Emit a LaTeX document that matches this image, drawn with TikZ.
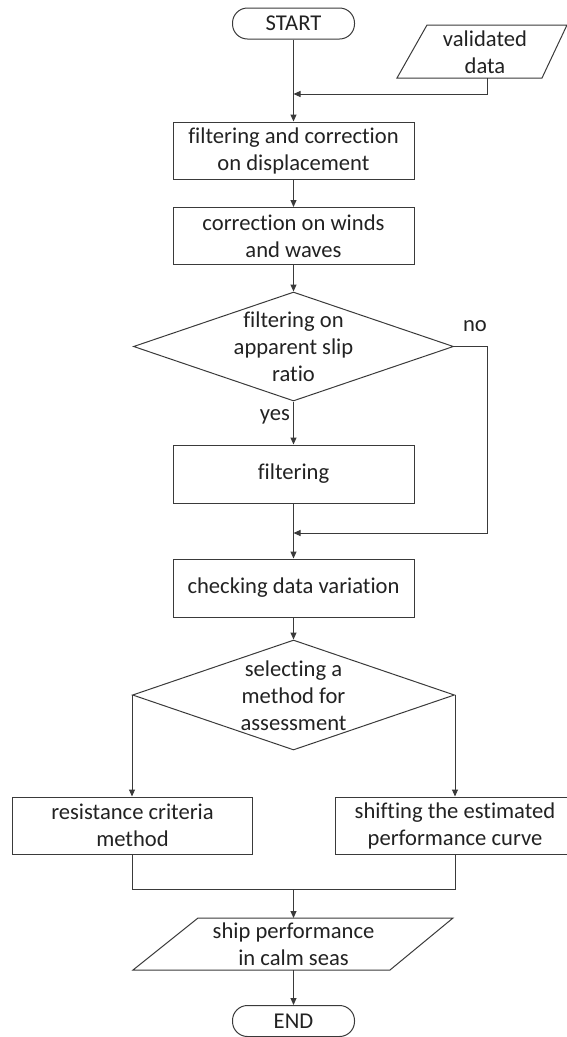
\documentclass[tikz,border=0pt]{standalone}
\usepackage{fontspec}
\setmainfont{Carlito}[Ligatures={NoCommon}]
\usetikzlibrary{shapes.geometric,arrows.meta}
\definecolor{ln}{HTML}{3A3A3A}
\definecolor{tx}{HTML}{222222}
\begin{document}
\begin{tikzpicture}[x=1pt,y=-1pt,
  every node/.style={font=\fontsize{22.6}{27}\selectfont, text=tx},
  base/.style={draw=ln, line width=1pt},
  procbox/.style={base, rectangle, minimum width=241pt, minimum height=57pt, inner sep=0pt, align=center},
  term/.style={base, rectangle, rounded corners=15pt, minimum width=122pt, minimum height=31pt, inner sep=0pt},
  decis/.style={base, diamond, minimum width=320pt, minimum height=109pt, inner sep=0pt},
  conn/.style={draw=ln, line width=1pt},
  arr/.style={conn, -{Triangle[length=7pt,width=6pt]}},
  lbl/.style={align=center, inner sep=0pt}
]
\useasboundingbox (0,0) rectangle (567,1037);
\clip (0,0) rectangle (567,1037);

% terminals
\node[term] (start) at (293.5,23.5) {START};
\node[term] (stop) at (293.5,1021) {END};

% validated data (parallelogram)
\coordinate (vbl) at (397,78);
\coordinate (vbr) at (542,78);
\coordinate (vtr) at (567,25);
\coordinate (vtl) at (427,25);
\draw[base, line join=miter] (vbl) -- (vbr) -- (vtr) -- (vtl) -- cycle;
\node[lbl] (vd) at (485,52) {validated\\data};
\coordinate (vdb) at (487,78);
\coordinate (j1) at (293.5,94);

% process boxes
\node[procbox] (b1) at (293.5,150.5) {filtering and correction\\on displacement};
\node[procbox] (b2) at (293.5,236) {correction on winds\\and waves};
\node[decis] (d1) at (293.5,346.5) {};
\node[lbl] (d1t) at (293.5,347) {filtering on\\apparent slip\\ratio};
\node[procbox, minimum height=58pt] (filt) at (293.5,474) {filtering};
\node[procbox, minimum height=58pt] (chk) at (293.5,588) {checking data variation};
\node[decis, minimum width=322pt, minimum height=110pt] (d2) at (293.5,695) {};
\node[lbl] (d2t) at (293.5,696) {selecting a\\method for\\assessment};
\node[procbox, minimum width=240pt] (lbox) at (132.5,825.5) {resistance criteria\\method};
\node[procbox, minimum width=240pt] (rbox) at (455,825.5) {shifting the estimated\\performance curve};

% ship performance (parallelogram)
\coordinate (obl) at (133,970);
\coordinate (obr) at (390,970);
\coordinate (otr) at (453,918);
\coordinate (otl) at (198,918);
\draw[base, line join=miter] (obl) -- (obr) -- (otr) -- (otl) -- cycle;
\node[lbl] (out) at (293.5,944) {ship performance\\in calm seas};
\coordinate (otop) at (293.5,918);
\coordinate (obot) at (293.5,970);

% labels
\node[lbl] (yes) at (275,417) {yes};
\node[lbl] (no) at (475,326) {no};

% connectors
\draw[arr] (start) -- (b1);
\draw[arr] (vdb) |- (j1);
\draw[arr] (b1) -- (b2);
\draw[arr] (b2) -- (d1.north);
\draw[arr] (d1.south) -- (filt);
\draw[arr] (filt) -- (chk);
\coordinate (j2) at (293.5,533);
\coordinate (nr) at (487,533);
\draw[arr] (d1.east) -| (nr) -- (j2);
\draw[arr] (chk) -- (d2.north);
\draw[arr] (d2.west) -- (d2.west |- lbox.north);
\draw[arr] (d2.east) -- (d2.east |- rbox.north);
\coordinate (m) at (293.5,889);
\draw[conn] (lbox.south) |- (rbox.south |- m) -- (rbox.south);
\draw[arr] (m) -- (otop);
\draw[arr] (obot) -- (stop);
\end{tikzpicture}
\end{document}
